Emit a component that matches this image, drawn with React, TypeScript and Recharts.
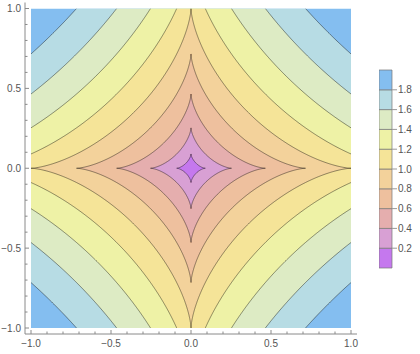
import React from "react";
import { ComposedChart, Area, Line, XAxis, YAxis, BarChart, Bar } from "recharts";

// contour levels of |x|^(2/3) + |y|^(2/3)
const levels = [0.2, 0.4, 0.6, 0.8, 1.0, 1.2, 1.4, 1.6, 1.8];
// band colours, lowest band first
const bandColors = [
  "#c578ee",
  "#d8a0d4",
  "#e5aeae",
  "#eec09e",
  "#f3d29b",
  "#f5e498",
  "#eef2a6",
  "#ddebc4",
  "#b7dce4",
  "#84bef0",
];
const axisTicks = [-1, -0.9, -0.8, -0.7, -0.6, -0.5, -0.4, -0.3, -0.2, -0.1, 0, 0.1, 0.2, 0.3, 0.4, 0.5, 0.6, 0.7, 0.8, 0.9, 1];
const labelTicks = [-1, -0.5, 0, 0.5, 1];
const legendTicks = [0.2, 0.4, 0.6, 0.8, 1.0, 1.2, 1.4, 1.6, 1.8];
const legendBands = [0.2, 0.2, 0.2, 0.2, 0.2, 0.2, 0.2, 0.2, 0.2, 0.2];

const FRAME = "#8a8a8a";
const TEXT = "#555";
const FONT = "'Liberation Sans', Arial, sans-serif";

// half height of the region where the surface is below level c
const halfHeight = (c: number, x: number) => {
  const r = c - Math.pow(Math.abs(x), 2 / 3);
  return r < 0 ? null : Math.pow(r, 1.5);
};

// sample positions along x, denser near the cusps
const xs: number[] = [];
for (let i = 0; i <= 400; i++) xs.push(Math.pow(i / 400, 3));
levels.forEach((c) => {
  if (Math.pow(c, 1.5) <= 1) xs.push(Math.pow(c, 1.5));
  if (c > 1) xs.push(Math.pow(c - 1, 1.5));
});
const xsAll = Array.from(new Set([...xs, ...xs.map((v) => -v)])).sort((a, b) => a - b);
const rows = xsAll.map((x) => ({ x }));

const fmt = (v: number) => {
  if (Math.abs(v) < 1e-9) return "0.0";
  return v < 0 ? "\u2212" + (-v).toFixed(1) : v.toFixed(1);
};
const isMajor = (v: number) => labelTicks.some((t) => Math.abs(t - v) < 1e-6);

const BottomTick = (props: any) => {
  const { x, y, payload } = props;
  const major = isMajor(payload.value);
  return (
    <g>
      <line x1={x} x2={x} y1={y} y2={y - (major ? 4 : 2.5)} stroke={FRAME} />
      {major && (
        <text x={x} y={y + 13} textAnchor="middle" fill={TEXT} fontSize={10} fontFamily={FONT}>
          {fmt(payload.value)}
        </text>
      )}
    </g>
  );
};

const TopTick = (props: any) => {
  const { x, y, payload } = props;
  const major = isMajor(payload.value);
  return <line x1={x} x2={x} y1={y} y2={y + (major ? 4 : 2.5)} stroke={FRAME} />;
};

const LeftTick = (props: any) => {
  const { x, y, payload } = props;
  const major = isMajor(payload.value);
  return (
    <g>
      <line x1={x} x2={x + (major ? 4 : 2.5)} y1={y} y2={y} stroke={FRAME} />
      {major && (
        <text x={x - 4} y={y + 3.5} textAnchor="end" fill={TEXT} fontSize={10} fontFamily={FONT}>
          {fmt(payload.value)}
        </text>
      )}
    </g>
  );
};

const RightTick = (props: any) => {
  const { x, y, payload } = props;
  const major = isMajor(payload.value);
  return <line x1={x} x2={x - (major ? 4 : 2.5)} y1={y} y2={y} stroke={FRAME} />;
};

const legendRow = [
  legendBands.reduce((row: any, v, i) => {
    row["b" + i] = v;
    return row;
  }, { name: "bar" }),
];

const App = () => {
  const descending = [...levels].reverse();
  return (
    <div style={{ position: "absolute", left: 0, top: 0, width: 420, height: 354, background: "#fff" }}>
      <div style={{ position: "absolute", left: 0, top: 0 }}>
        <ComposedChart width={360} height={354} data={rows} margin={{ top: 2.5, right: 3, bottom: 0, left: 0 }}>
          <XAxis
            dataKey="x"
            type="number"
            domain={[-1, 1]}
            allowDataOverflow
            ticks={axisTicks}
            interval={0}
            padding={{ left: 6, right: 6 }}
            height={20}
            stroke={FRAME}
            tickSize={0}
            tickMargin={0}
            tick={<BottomTick />}
          />
          <XAxis
            xAxisId="top"
            orientation="top"
            dataKey="x"
            type="number"
            domain={[-1, 1]}
            allowDataOverflow
            ticks={axisTicks}
            interval={0}
            padding={{ left: 6, right: 6 }}
            height={0}
            stroke={FRAME}
            tickSize={0}
            tickMargin={0}
            tick={<TopTick />}
          />
          <YAxis
            type="number"
            domain={[-1, 1]}
            allowDataOverflow
            ticks={axisTicks}
            interval={0}
            padding={{ top: 6, bottom: 6 }}
            width={25}
            stroke={FRAME}
            tickSize={0}
            tickMargin={0}
            tick={<LeftTick />}
          />
          <YAxis
            yAxisId="right"
            orientation="right"
            type="number"
            domain={[-1, 1]}
            allowDataOverflow
            ticks={axisTicks}
            interval={0}
            padding={{ top: 6, bottom: 6 }}
            width={0}
            stroke={FRAME}
            tickSize={0}
            tickMargin={0}
            tick={<RightTick />}
          />
          <Area
            dataKey={() => [-1, 1]}
            type="linear"
            fill={bandColors[9]}
            fillOpacity={1}
            stroke="none"
            dot={false}
            activeDot={false}
            isAnimationActive={false}
          />
          {descending.map((c) => {
            const band = levels.indexOf(c);
            return (
              <Area
                key={"a" + c}
                dataKey={(d: any) => {
                  const h = halfHeight(c, d.x);
                  return h == null ? null : [-Math.min(h, 1), Math.min(h, 1)];
                }}
                type="linear"
                fill={bandColors[band]}
                fillOpacity={1}
                stroke="none"
                dot={false}
                activeDot={false}
                isAnimationActive={false}
              />
            );
          })}
          {levels.map((c) =>
            [1, -1].map((sign) => (
              <Line
                key={"l" + c + sign}
                dataKey={(d: any) => {
                  const h = halfHeight(c, d.x);
                  return h == null || h > 1 + 1e-9 ? null : sign * h;
                }}
                type="linear"
                stroke="#000"
                strokeOpacity={0.42}
                strokeWidth={1}
                dot={false}
                activeDot={false}
                isAnimationActive={false}
              />
            ))
          )}
        </ComposedChart>
      </div>
      <div style={{ position: "absolute", left: 379, top: 60 }}>
        <BarChart
          width={41}
          height={220}
          data={legendRow}
          margin={{ top: 10, right: 0, bottom: 12, left: 0 }}
          barCategoryGap={0}
          barGap={0}
        >
          <XAxis dataKey="name" hide />
          <YAxis
            orientation="right"
            type="number"
            domain={[0, 2]}
            ticks={legendTicks}
            interval={0}
            width={28}
            axisLine={false}
            tickSize={5}
            tickMargin={1}
            tickLine={{ stroke: "#999" }}
            tickFormatter={(v: number) => v.toFixed(1)}
            tick={{ fill: TEXT, fontSize: 10, fontFamily: FONT }}
          />
          {legendBands.map((v, i) => (
            <Bar
              key={"b" + i}
              dataKey={"b" + i}
              stackId="bar"
              fill={bandColors[i]}
              stroke="#777"
              strokeWidth={0.7}
              isAnimationActive={false}
            />
          ))}
        </BarChart>
      </div>
    </div>
  );
};

export default App;
